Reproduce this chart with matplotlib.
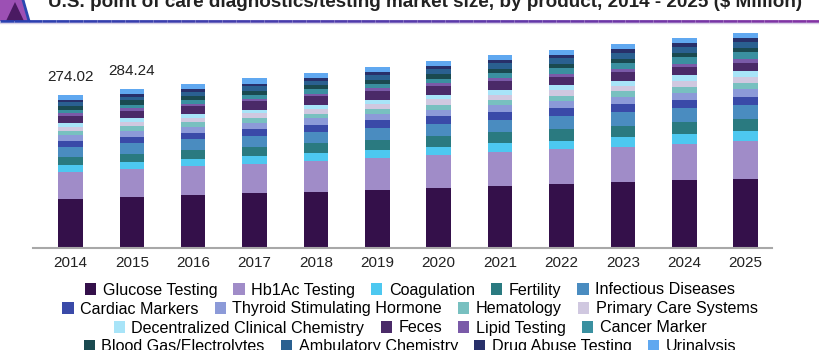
import matplotlib
matplotlib.use("Agg")
import matplotlib.pyplot as plt
from matplotlib.patches import Polygon, Patch
from matplotlib.lines import Line2D
import numpy as np

years = ["2014", "2015", "2016", "2017", "2018", "2019", "2020", "2021", "2022", "2023", "2024", "2025"]

glucose       = [87.2, 91.9, 95.0, 98.0, 101.0, 104.0, 107.5, 111.0, 114.0, 117.5, 121.0, 124.3]
hb1ac         = [48.4, 49.5, 51.0, 53.0, 55.0, 57.5, 59.0, 61.0, 62.5, 64.0, 66.0, 67.5]
coagulation   = [12.5, 12.8, 13.2, 13.6, 14.0, 14.4, 14.8, 15.3, 15.8, 16.5, 17.2, 17.9]
fertility     = [14.3, 15.0, 15.8, 16.6, 17.4, 18.2, 19.0, 19.7, 20.3, 20.8, 21.2, 21.5]
infectious    = [17.9, 18.6, 19.3, 20.0, 20.8, 21.6, 22.4, 23.0, 23.6, 24.1, 24.6, 25.0]
cardiac       = [11.3, 11.5, 11.8, 12.0, 12.3, 12.6, 13.0, 13.3, 13.7, 14.1, 14.5, 14.9]
thyroid       = [10.7, 10.9, 11.1, 11.3, 11.5, 11.8, 12.1, 12.4, 12.7, 13.1, 13.4, 13.8]
hematology    = [7.2, 7.5, 7.8, 8.1, 8.4, 8.7, 9.0, 9.4, 9.8, 10.3, 10.8, 11.3]
primary_care  = [7.7, 7.9, 8.1, 8.4, 8.7, 9.0, 9.3, 9.6, 9.9, 10.2, 10.5, 10.7]
decentralized = [6.1, 6.3, 6.6, 6.9, 7.2, 7.5, 7.8, 8.3, 8.8, 9.3, 9.8, 10.2]
feces         = [13.6, 14.0, 14.4, 14.8, 15.1, 15.4, 15.6, 15.6, 15.5, 15.3, 15.1, 14.9]
lipid         = [4.3, 4.4, 4.5, 4.6, 4.8, 5.0, 5.2, 5.4, 5.6, 5.8, 6.0, 6.1]
cancer        = [5.9, 6.3, 6.7, 7.1, 7.6, 8.1, 8.6, 9.3, 10.0, 10.8, 11.6, 12.5]
blood_gas     = [7.7, 7.7, 7.7, 7.6, 7.6, 7.6, 7.5, 7.5, 7.4, 7.3, 7.3, 7.2]
ambulatory    = [6.1, 6.5, 7.0, 7.5, 8.0, 8.6, 9.2, 9.8, 10.3, 10.8, 11.3, 11.8]
drug_abuse    = [4.1, 4.3, 4.5, 4.7, 4.9, 5.1, 5.3, 5.5, 5.7, 5.8, 6.0, 6.1]
urinalysis    = [9.02, 9.14, 9.2, 9.3, 9.4, 9.5, 9.6, 9.7, 9.8, 9.8, 9.9, 9.0]

series_names = ["Glucose Testing", "Hb1Ac Testing", "Coagulation", "Fertility", "Infectious Diseases",
                "Cardiac Markers", "Thyroid Stimulating Hormone", "Hematology", "Primary Care Systems",
                "Decentralized Clinical Chemistry", "Feces", "Lipid Testing", "Cancer Marker",
                "Blood Gas/Electrolytes", "Ambulatory Chemistry", "Drug Abuse Testing", "Urinalysis"]
series_values = [glucose, hb1ac, coagulation, fertility, infectious, cardiac, thyroid, hematology,
                 primary_care, decentralized, feces, lipid, cancer, blood_gas, ambulatory, drug_abuse,
                 urinalysis]
colors = ["#34104a", "#a08cc8", "#4dc8f0", "#2a7a80", "#4a8cc0", "#3a4aa8", "#8c9ad8", "#78c0c0",
          "#d0c8e0", "#a8e4f8", "#4a2a68", "#7a5aa8", "#3a90a0", "#1a4a50", "#2a6090", "#28306a",
          "#60a8f0"]

label_years = ["2014", "2015"]
label_texts = ["274.02", "284.24"]

legend_rows = [5, 4, 4, 4]

title = "U.S. point of care diagnostics/testing market size, by product, 2014 - 2025 ($ Million)"

plt.rcParams['font.family'] = ['Liberation Sans', 'DejaVu Sans']

W, H = 820, 350
fig = plt.figure(figsize=(8.2, 3.5), dpi=100)

def fx(px):
    return px / W

def fy(py):
    return 1 - py / H

# header decoration
fig.patches.append(Polygon([(fx(0), fy(0)), (fx(24), fy(0)), (fx(29), fy(21)), (fx(0), fy(21))],
                           closed=True, transform=fig.transFigure, facecolor="#9c50b4", edgecolor="none"))
fig.patches.append(Polygon([(fx(6), fy(21)), (fx(15), fy(2)), (fx(24), fy(21))],
                           closed=True, transform=fig.transFigure, facecolor="#4a1a62", edgecolor="none"))
fig.lines.append(Line2D([fx(23), fx(29)], [fy(0), fy(21)], transform=fig.transFigure,
                        color="#2a48b0", lw=2))
xs = np.linspace(0, 1, 60)
for i in range(len(xs) - 1):
    t = xs[i]
    c = (0.16 + 0.36 * t, 0.25 - 0.05 * t, 0.69 - 0.05 * t)
    fig.lines.append(Line2D([xs[i], xs[i + 1]], [fy(21), fy(21)], transform=fig.transFigure,
                            color=c, lw=2, solid_capstyle="butt"))
fig.lines.append(Line2D([0, 1], [fy(23), fy(23)], transform=fig.transFigure, color="#d8d0e8", lw=1))

fig.text(fx(425), fy(7), title, ha="center", va="baseline", fontsize=13.6, fontweight="bold",
         color="#222222")

ax = fig.add_axes([fx(33), fy(248), fx(772) - fx(33), fy(24.6) - fy(248)])
x = np.arange(len(years))
bottom = np.zeros(len(years))
handles = []
for name, vals, col in zip(series_names, series_values, colors):
    v = np.array(vals)
    ax.bar(x, v, width=0.4, bottom=bottom, color=col, edgecolor="none", label=name)
    bottom += v
    handles.append(Patch(facecolor=col, edgecolor="none", label=name))

for yr, txt in zip(label_years, label_texts):
    i = years.index(yr)
    ax.annotate(txt, xy=(i, bottom[i]), xytext=(0, 14), textcoords="offset pixels",
                ha="center", va="baseline", fontsize=11, color="#222222")

ax.set_xlim(-0.61, 11.43)
ax.set_ylim(0, 400)
ax.set_xticks(x)
ax.set_xticklabels(years, fontsize=11, color="#222222")
ax.tick_params(axis="x", length=0, pad=6)
ax.set_yticks([])
for s in ["left", "right", "top"]:
    ax.spines[s].set_visible(False)
ax.spines["bottom"].set_color("#a8a8a8")
ax.spines["bottom"].set_linewidth(1.5)

row_y = [290, 309, 328, 347]
start = 0
for n, yy in zip(legend_rows, row_y):
    hs = handles[start:start + n]
    start += n
    fig.legend(handles=hs, loc="center", bbox_to_anchor=(0.5, fy(yy)), ncol=n, frameon=False,
               fontsize=11.6, handlelength=0.7, handleheight=0.7, handletextpad=0.4,
               columnspacing=1.0, borderpad=0, borderaxespad=0)

fig.savefig("out.png", dpi=100)
